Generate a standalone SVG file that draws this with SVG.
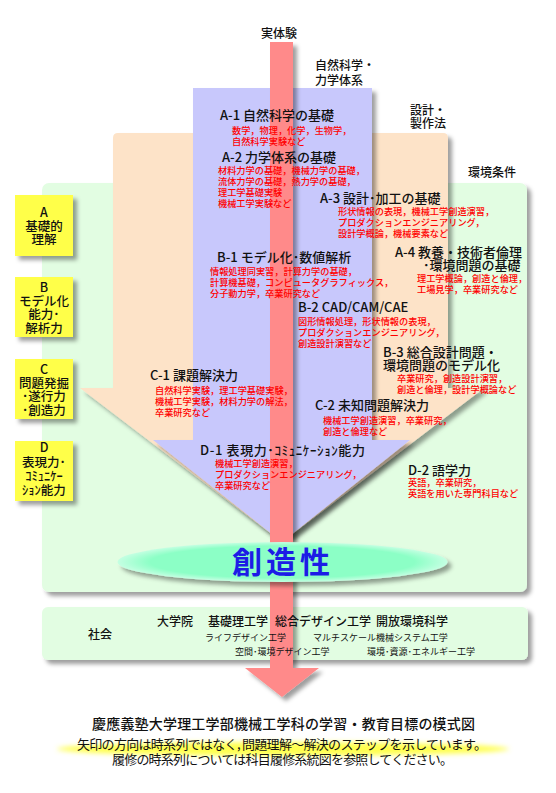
<svg xmlns="http://www.w3.org/2000/svg" width="556" height="793" viewBox="0 0 556 793">
<defs>
<filter id="sh" x="-10%" y="-10%" width="130%" height="130%">
<feDropShadow dx="4" dy="4" stdDeviation="2" flood-color="#000" flood-opacity="0.38"/>
</filter>
<filter id="blur" x="-10%" y="-50%" width="120%" height="200%">
<feGaussianBlur stdDeviation="2.5"/>
</filter>
<radialGradient id="eg" cx="0.5" cy="0.5" r="0.5">
<stop offset="0.8" stop-color="#8cffc6"/>
<stop offset="1" stop-color="#c4ffe2"/>
</radialGradient>
<style>
text{font-family:"Noto Sans CJK JP","Noto Sans",sans-serif;}
.h{font-size:13px;fill:#111;font-weight:500;}
.r{font-size:9.2px;fill:#ff0000;font-weight:500;}
.lab{font-size:12px;fill:#111;font-weight:500;}
.bx{font-size:12.5px;fill:#111;text-anchor:middle;font-weight:500;}
.ybox{fill:#ffff4a;filter:url(#sh);}
.s1{font-size:12px;fill:#111;font-weight:500;}
.s2{font-size:9px;fill:#111;}
.t{font-size:14px;fill:#111;font-weight:500;}
.t2{font-size:13px;fill:#111;}
</style>
</defs>
<rect width="556" height="793" fill="#ffffff"/>

<g id="env">
<rect x="42" y="183" width="485" height="409" rx="7" fill="#e2fde2" filter="url(#sh)"/>
<text class="lab" x="468" y="177">環境条件</text>
</g>

<g id="design">
<path d="M118,133 H443 Q448,133 448,138 V388 H484 L282,542 L80,388 H113 V138 Q113,133 118,133 Z" fill="#fde3c8" filter="url(#sh)"/>
<text class="lab" x="410" y="115">設計・<tspan x="410" dy="13">製作法</tspan></text>
</g>

<g id="science">
<path d="M193,88 H372 V440 H410 L282,542 L153,440 H193 Z" fill="#c8c8fc" filter="url(#sh)"/>
<text class="lab" x="315" y="70">自然科学・<tspan x="315" dy="15">力学体系</tspan></text>
</g>

<g id="society">
<rect x="42" y="607" width="486" height="53" rx="6" fill="#e2fde2" filter="url(#sh)"/>
</g>

<g id="connectors">
<path d="M270,42 H293 V668 H319 L282,697 L245,668 H270 Z" fill="#ff8a8a" filter="url(#sh)"/>
<text class="lab" x="279" y="38" text-anchor="middle" font-weight="bold">実体験</text>
</g>

<g id="society-text">
<text class="s1" x="88" y="639">社会</text>
<text class="s1" x="157" y="626">大学院<tspan x="208">基礎理工学</tspan><tspan x="275">総合デザイン工学</tspan><tspan x="376">開放環境科学</tspan></text>
<text class="s2" x="205" y="641">ライフデザイン工学<tspan x="313">マルチスケール機械システム工学</tspan><tspan x="235" dy="14">空間･環境デザイン工学</tspan><tspan x="367">環境･資源･エネルギー工学</tspan></text>
</g>

<g id="creativity">
<ellipse cx="282.5" cy="562" rx="165" ry="20" fill="url(#eg)" filter="url(#sh)"/>
<text x="283" y="573" text-anchor="middle" font-size="30" font-weight="bold" letter-spacing="4" fill="#1c1ce6">創造性</text>
</g>

<g id="boxA">
<rect class="ybox" x="15" y="195" width="58" height="61"/>
<text class="bx" x="44" y="217">A<tspan x="44" dy="14">基礎的</tspan><tspan x="44" dy="13">理解</tspan></text>
</g>
<g id="boxB">
<rect class="ybox" x="15" y="277" width="58" height="60"/>
<text class="bx" x="44" y="292">B<tspan x="44" dy="14">モデル化</tspan><tspan x="44" dy="13">能力･</tspan><tspan x="44" dy="14">解析力</tspan></text>
</g>
<g id="boxC">
<rect class="ybox" x="15" y="359" width="58" height="60"/>
<text class="bx" x="44" y="374">C<tspan x="44" dy="14">問題発掘</tspan><tspan x="44" dy="13">･遂行力</tspan><tspan x="44" dy="14">･創造力</tspan></text>
</g>
<g id="boxD">
<rect class="ybox" x="15" y="441" width="58" height="60"/>
<text class="bx" x="44" y="452">D<tspan x="44" dy="15">表現力･</tspan><tspan x="44" dy="14">ｺﾐｭﾆｹｰ</tspan><tspan x="44" dy="14">ｼｮﾝ能力</tspan></text>
</g>

<g id="A1">
<text class="h" x="220" y="120">A-1 自然科学の基礎</text>
<text class="r" x="232" y="134">数学，物理，化学，生物学，<tspan x="232" dy="11">自然科学実験など</tspan></text>
</g>
<g id="A2">
<text class="h" x="222" y="162">A-2 力学体系の基礎</text>
<text class="r" x="218" y="174">材料力学の基礎，機械力学の基礎，<tspan x="218" dy="11">流体力学の基礎，熱力学の基礎，</tspan><tspan x="218" dy="11">理工学基礎実験</tspan><tspan x="218" dy="11">機械工学実験など</tspan></text>
</g>
<g id="A3">
<text class="h" x="320" y="203">A-3 設計･加工の基礎</text>
<text class="r" x="338" y="215">形状情報の表現，機械工学創造演習，<tspan x="338" dy="11">プロダクションエンジニアリング，</tspan><tspan x="338" dy="11">設計学概論，機械要素など</tspan></text>
</g>
<g id="A4">
<text class="h" x="395" y="257">A-4 教養・技術者倫理<tspan x="423" dy="13">･環境問題の基礎</tspan></text>
<text class="r" x="417" y="282">理工学概論，創造と倫理，<tspan x="417" dy="11">工場見学，卒業研究など</tspan></text>
</g>
<g id="B1">
<text class="h" x="217" y="262">B-1 モデル化･数値解析</text>
<text class="r" x="210" y="275">情報処理同実習，計算力学の基礎，<tspan x="210" dy="11">計算機基礎，コンピュータグラフィックス，</tspan><tspan x="210" dy="11">分子動力学，卒業研究など</tspan></text>
</g>
<g id="B2">
<text class="h" x="298" y="312">B-2 CAD/CAM/CAE</text>
<text class="r" x="298" y="325">図形情報処理，形状情報の表現，<tspan x="298" dy="11">プロダクションエンジニアリング，</tspan><tspan x="298" dy="11">創造設計演習など</tspan></text>
</g>
<g id="B3">
<text class="h" x="383" y="357">B-3 総合設計問題・<tspan x="383" dy="13">環境問題のモデル化</tspan></text>
<text class="r" x="397" y="382">卒業研究，創造設計演習，<tspan x="397" dy="11">創造と倫理，設計学概論など</tspan></text>
</g>
<g id="C1">
<text class="h" x="150" y="380">C-1 課題解決力</text>
<text class="r" x="155" y="394">自然科学実験，理工学基礎実験，<tspan x="155" dy="11">機械工学実験，材料力学の解法，</tspan><tspan x="155" dy="11">卒業研究など</tspan></text>
</g>
<g id="C2">
<text class="h" x="315" y="410">C-2 未知問題解決力</text>
<text class="r" x="323" y="424">機械工学創造演習，卒業研究，<tspan x="323" dy="11">創造と倫理など</tspan></text>
</g>
<g id="D1">
<text class="h" x="200" y="455" textLength="165" lengthAdjust="spacing">D-1 表現力･ｺﾐｭﾆｹｰｼｮﾝ能力</text>
<text class="r" x="215" y="467">機械工学創造演習，<tspan x="215" dy="11">プロダクションエンジニアリング，</tspan><tspan x="215" dy="11">卒業研究など</tspan></text>
</g>
<g id="D2">
<text class="h" x="408" y="475">D-2 語学力</text>
<text class="r" x="408" y="486">英語，卒業研究，<tspan x="408" dy="11">英語を用いた専門科目など</tspan></text>
</g>

<g id="caption">
<ellipse cx="283" cy="749" rx="226" ry="7" fill="#ffff50" filter="url(#blur)"/>
<text class="t" x="92" y="729" textLength="383" lengthAdjust="spacing">慶應義塾大学理工学部機械工学科の学習・教育目標の模式図</text>
<text class="t2" x="77" y="749" textLength="410" lengthAdjust="spacing">矢印の方向は時系列ではなく, 問題理解～解決のステップを示しています。</text>
<text class="t2" x="112" y="764" textLength="341" lengthAdjust="spacing">履修の時系列については科目履修系統図を参照してください。</text>
</g>
</svg>
